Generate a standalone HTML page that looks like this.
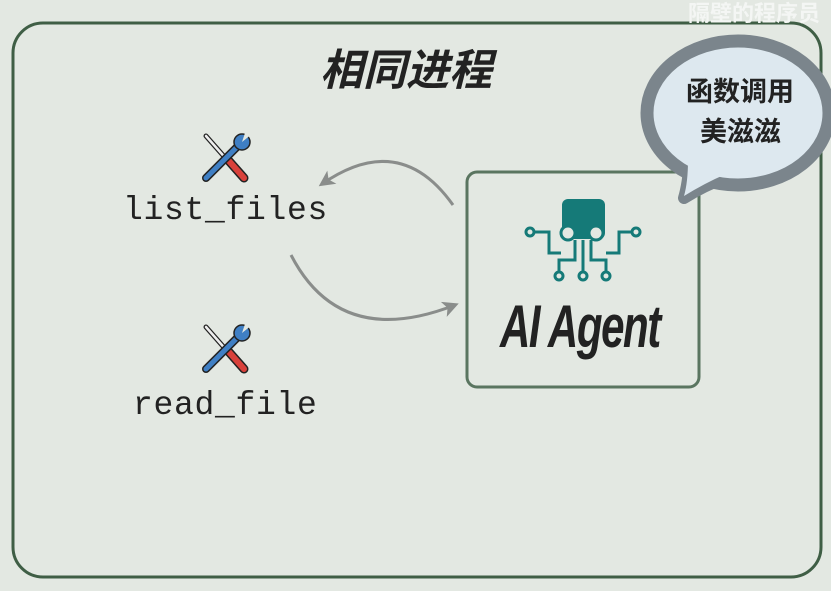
<!DOCTYPE html>
<html><head><meta charset="utf-8"><style>
html,body{margin:0;padding:0;}
body{width:831px;height:591px;background:#e3e8e2;position:relative;overflow:hidden;font-family:"Liberation Sans","Noto Sans CJK SC",sans-serif;}
.t{position:absolute;white-space:nowrap;}
</style></head><body>
<svg width="831" height="591" style="position:absolute;left:0;top:0">
<defs>
<marker id="ah" markerWidth="16" markerHeight="16" refX="12" refY="8" orient="auto" markerUnits="userSpaceOnUse"><path d="M0,0 L16,8 L0,16 L4,8 Z" fill="#8a8d8b"/></marker>
<g id="tool">
<line x1="-20" y1="-22" x2="10" y2="12" stroke="#222" stroke-width="5" stroke-linecap="round"/>
<line x1="-20" y1="-22" x2="10" y2="12" stroke="#eee" stroke-width="2.5" stroke-linecap="round"/>
<line x1="3" y1="3" x2="18" y2="20" stroke="#222" stroke-width="9" stroke-linecap="round"/>
<line x1="3" y1="3" x2="18" y2="20" stroke="#d9413b" stroke-width="6" stroke-linecap="round"/>
<line x1="14" y1="-14" x2="-20" y2="20" stroke="#222" stroke-width="8" stroke-linecap="round"/>
<line x1="14" y1="-14" x2="-20" y2="20" stroke="#3f7fc4" stroke-width="5" stroke-linecap="round"/>
<circle cx="16" cy="-16" r="8" fill="#3f7fc4" stroke="#222" stroke-width="1.5"/>
<path d="M16,-16 L26,-24 L20,-28 Z" fill="#e3e8e2"/>
</g>
</defs>
<rect x="13" y="23" width="808" height="554" rx="30" fill="#e3e8e2" stroke="#3f5e45" stroke-width="3"/>
<rect x="467" y="172" width="232" height="215" rx="10" fill="#e3e8e2" stroke="#5a7560" stroke-width="3"/>
<path d="M453,205 Q400,130 322,184" fill="none" stroke="#8a8d8b" stroke-width="3" marker-end="url(#ah)"/>
<path d="M291,255 Q340,350 455,305" fill="none" stroke="#8a8d8b" stroke-width="3" marker-end="url(#ah)"/>
<path d="M690,160 Q688,185 684,198 Q705,185 725,178 Z" fill="#dde8ef" stroke="#7b858c" stroke-width="12" stroke-linejoin="round"/>
<ellipse cx="738" cy="113" rx="91" ry="72" fill="#dde8ef" stroke="#7b858c" stroke-width="13"/>
<path d="M688,160 Q688,182 684,196 Q705,183 726,174 Z" fill="#dde8ef"/>
<use href="#tool" x="226" y="158"/>
<use href="#tool" x="226" y="349"/>
<g fill="#157a78" stroke="#157a78">
<rect x="562" y="199" width="43" height="40" rx="6" stroke="none"/>
<circle cx="568" cy="233" r="7" fill="#e3e8e2" stroke-width="3"/>
<circle cx="596" cy="233" r="7" fill="#e3e8e2" stroke-width="3"/>
<g fill="none" stroke-width="3">
<path d="M533,232 H549 V253 H561"/><path d="M634,232 H619 V253 H606"/>
<path d="M575,240 V260 H559 V272"/><path d="M583,240 V271"/><path d="M591,240 V260 H606 V272"/>
</g>
<circle cx="530" cy="232" r="4" fill="#e3e8e2" stroke-width="3"/>
<circle cx="636" cy="232" r="4" fill="#e3e8e2" stroke-width="3"/>
<circle cx="559" cy="276" r="4" fill="#e3e8e2" stroke-width="3"/>
<circle cx="583" cy="276" r="4" fill="#e3e8e2" stroke-width="3"/>
<circle cx="606" cy="276" r="4" fill="#e3e8e2" stroke-width="3"/>
</g>
</svg>
<div class="t" style="left:320px;top:36px;font-size:43px;font-weight:bold;font-style:italic;color:#222;">相同进程</div>
<div class="t" style="left:686px;top:70px;font-size:27px;font-weight:bold;color:#222;">函数调用</div>
<div class="t" style="left:700px;top:110px;font-size:27px;font-weight:bold;color:#222;">美滋滋</div>
<div class="t" style="left:500px;top:292px;font-size:60px;font-weight:bold;font-style:italic;color:#222;letter-spacing:-2px;transform:scaleX(0.7);transform-origin:left;">AI Agent</div>
<div class="t" style="left:123px;top:192px;font-size:33px;font-family:'Liberation Mono',monospace;color:#222;letter-spacing:0.7px;">list_files</div>
<div class="t" style="left:133px;top:387px;font-size:33px;font-family:'Liberation Mono',monospace;color:#222;letter-spacing:0.7px;">read_file</div>
<div class="t" style="left:688px;top:-4px;font-size:22px;font-weight:bold;color:#f4f6f4;">隔壁的程序员</div>
</body></html>
